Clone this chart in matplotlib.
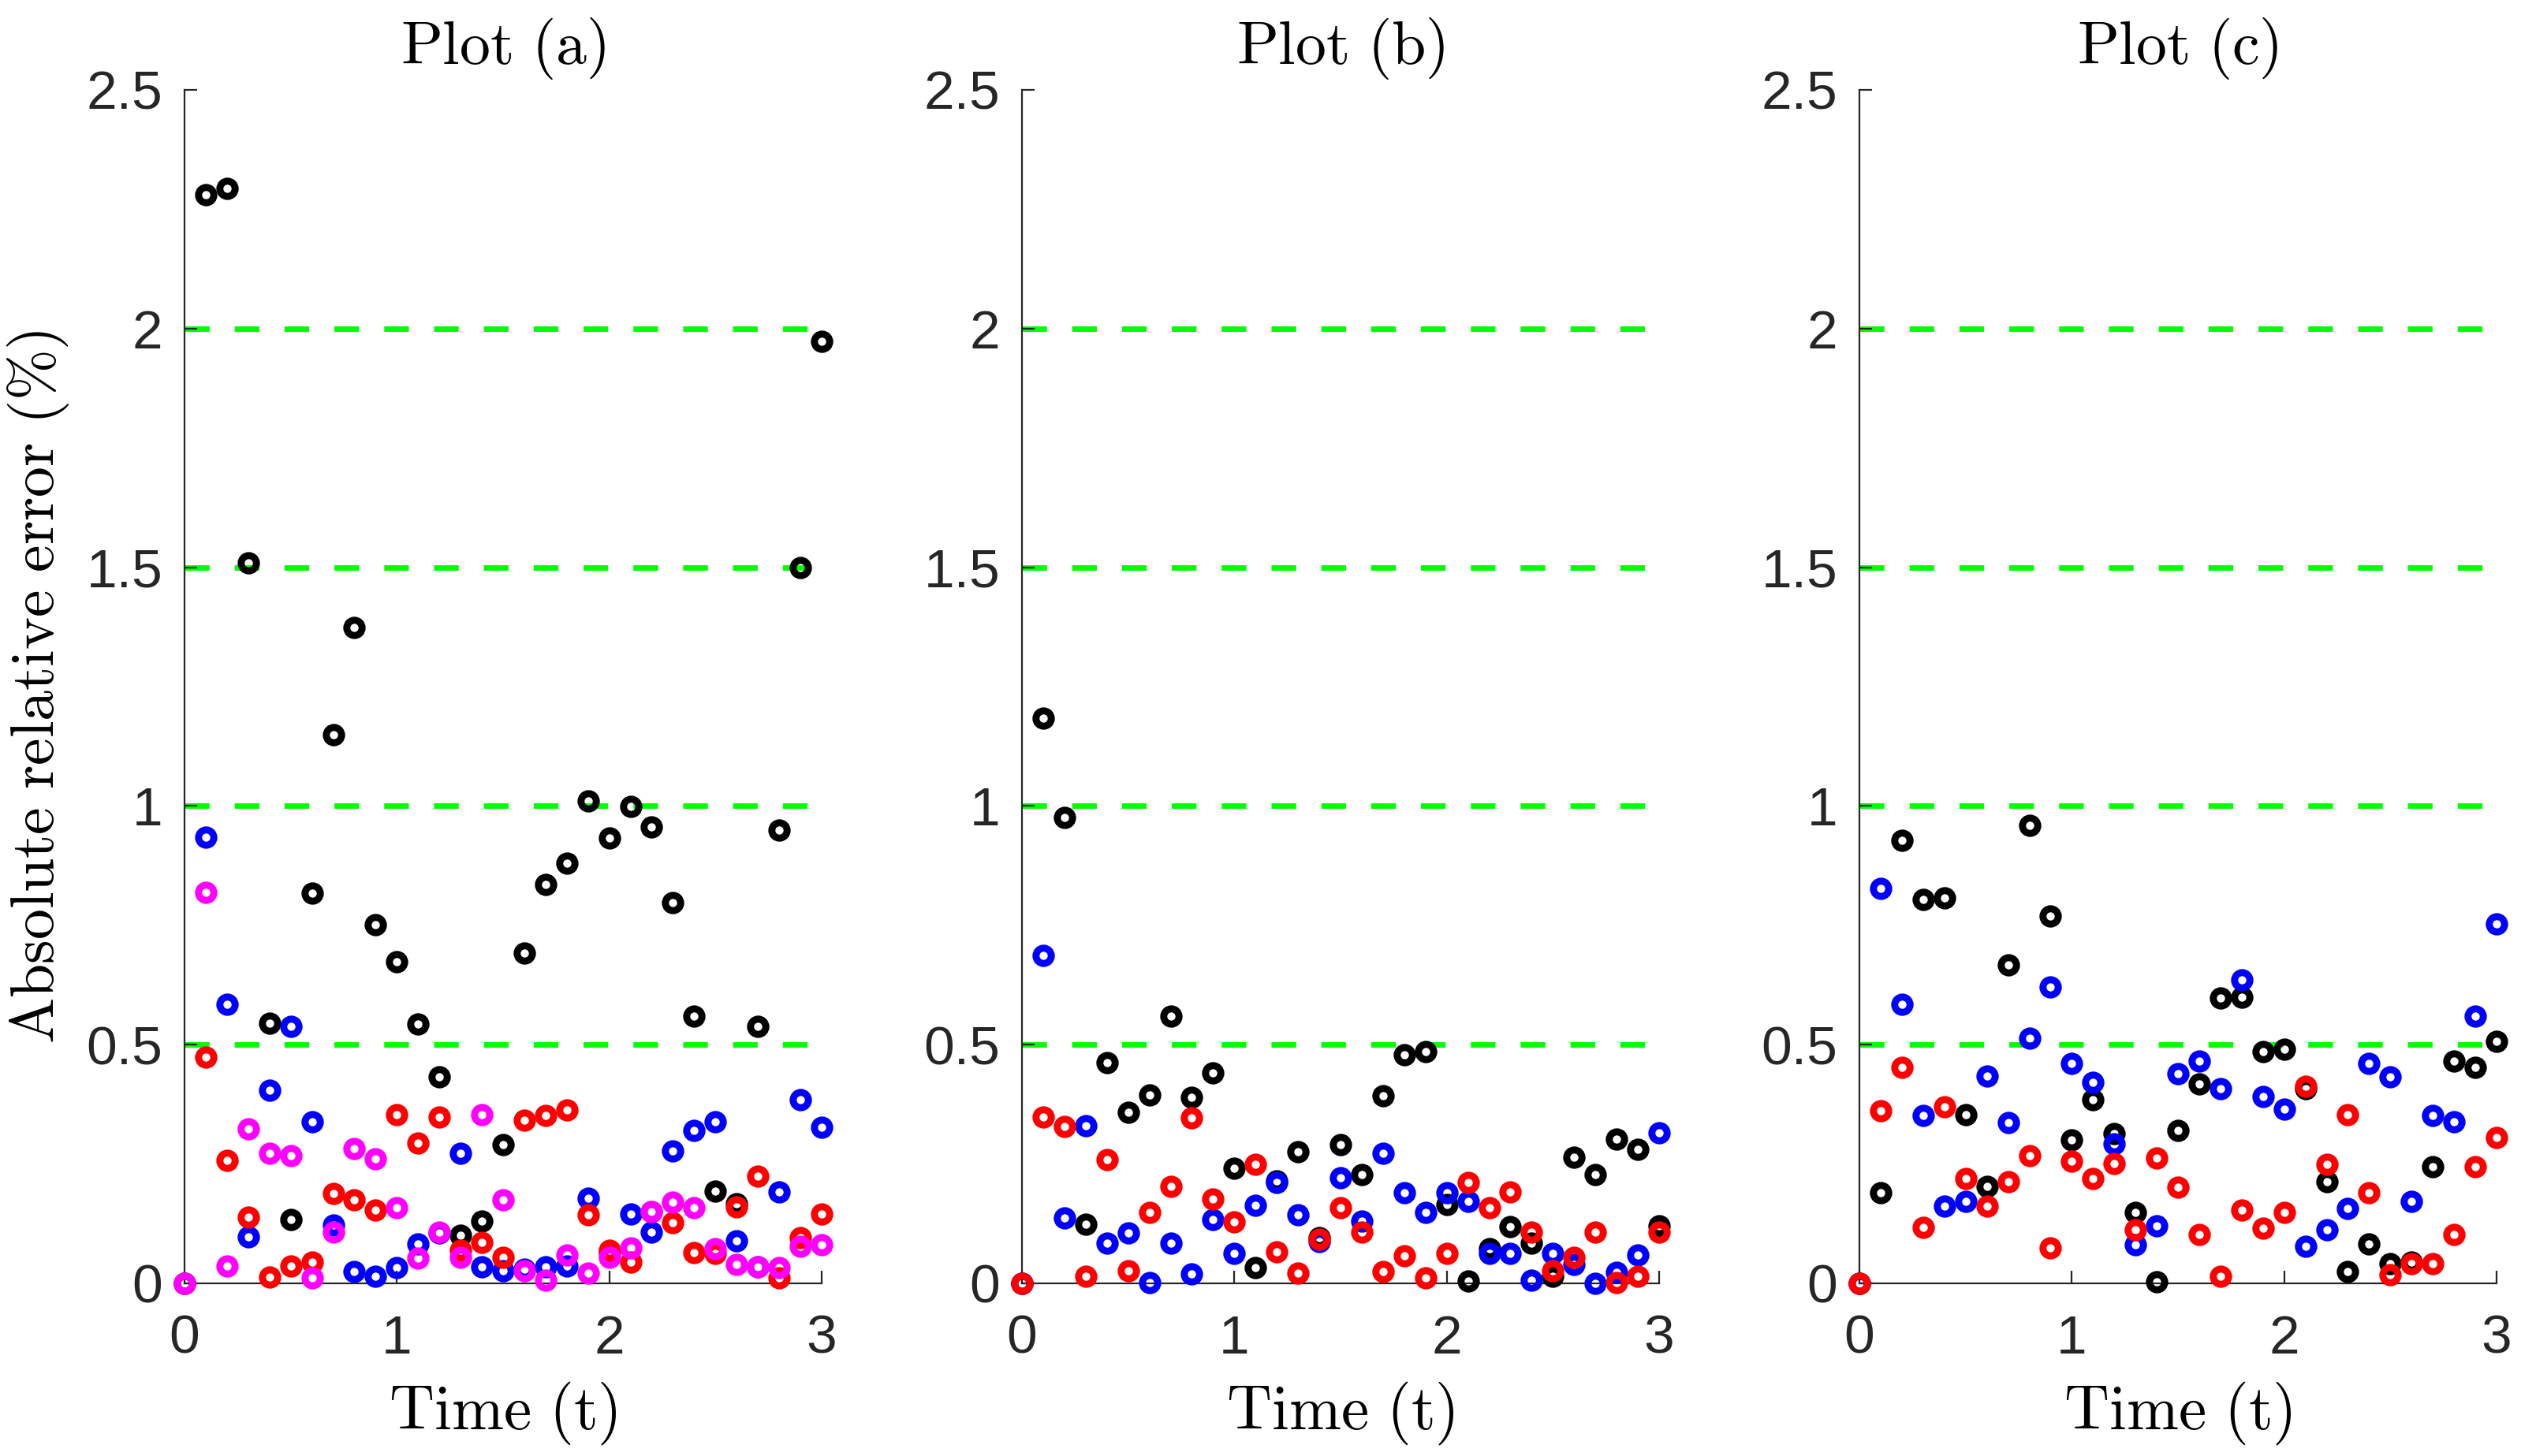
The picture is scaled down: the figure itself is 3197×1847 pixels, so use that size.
import matplotlib
matplotlib.use('Agg')
import matplotlib.pyplot as plt

# time samples (same for every panel)
t = [0.0, 0.1, 0.2, 0.3, 0.4, 0.5, 0.6, 0.7, 0.8, 0.9, 1.0,
     1.1, 1.2, 1.3, 1.4, 1.5, 1.6, 1.7, 1.8, 1.9, 2.0,
     2.1, 2.2, 2.3, 2.4, 2.5, 2.6, 2.7, 2.8, 2.9, 3.0]

# Plot (a)
a_black = [0, 2.28, 2.294, 1.509, 0.545, 0.134, 0.817, 1.15, 1.374, 0.751, 0.674,
           0.544, 0.432, 0.101, 0.131, 0.29, 0.692, 0.835, 0.88, 1.01, 0.933,
           0.999, 0.956, 0.798, 0.559, 0.193, 0.166, 0.539, 0.949, 1.5, 1.974]
a_blue = [0, 0.935, 0.585, 0.098, 0.404, 0.539, 0.339, 0.122, 0.024, 0.015, 0.033,
          0.083, 0.105, 0.272, 0.034, 0.026, 0.03, 0.035, 0.037, 0.179, 0.065,
          0.145, 0.108, 0.278, 0.321, 0.338, 0.089, 0.035, 0.192, 0.384, 0.327]
a_red = [0, 0.473, 0.257, 0.139, 0.013, 0.036, 0.044, 0.188, 0.175, 0.153, 0.354,
         0.294, 0.348, 0.07, 0.085, 0.055, 0.342, 0.352, 0.364, 0.144, 0.07,
         0.044, 0.15, 0.127, 0.064, 0.063, 0.16, 0.224, 0.011, 0.096, 0.145]
a_magenta = [0, 0.819, 0.037, 0.323, 0.273, 0.267, 0.011, 0.107, 0.282, 0.26, 0.159,
             0.053, 0.107, 0.055, 0.353, 0.175, 0.026, 0.007, 0.059, 0.021, 0.055,
             0.075, 0.151, 0.17, 0.159, 0.072, 0.039, 0.035, 0.033, 0.077, 0.081]

# Plot (b)
b_black = [0, 1.184, 0.976, 0.124, 0.463, 0.358, 0.394, 0.56, 0.389, 0.441, 0.241,
           0.033, 0.214, 0.275, 0.096, 0.291, 0.228, 0.393, 0.478, 0.486, 0.165,
           0.005, 0.072, 0.118, 0.084, 0.015, 0.264, 0.228, 0.302, 0.281, 0.12]
b_blue = [0, 0.687, 0.137, 0.33, 0.084, 0.106, 0.002, 0.084, 0.019, 0.133, 0.063,
          0.164, 0.211, 0.143, 0.088, 0.221, 0.13, 0.272, 0.19, 0.148, 0.189,
          0.171, 0.063, 0.063, 0.007, 0.062, 0.039, 0.0, 0.023, 0.059, 0.315]
b_red = [0, 0.348, 0.328, 0.015, 0.259, 0.027, 0.149, 0.203, 0.346, 0.176, 0.128,
         0.249, 0.066, 0.021, 0.092, 0.159, 0.107, 0.025, 0.058, 0.011, 0.062,
         0.212, 0.159, 0.192, 0.108, 0.027, 0.054, 0.108, 0.002, 0.015, 0.108]

# Plot (c)
c_black = [0, 0.189, 0.928, 0.804, 0.808, 0.354, 0.203, 0.667, 0.959, 0.77, 0.3,
           0.385, 0.314, 0.148, 0.004, 0.321, 0.417, 0.598, 0.6, 0.485, 0.49,
           0.408, 0.213, 0.024, 0.083, 0.041, 0.044, 0.245, 0.465, 0.452, 0.507]
c_blue = [0, 0.827, 0.584, 0.352, 0.161, 0.171, 0.435, 0.336, 0.514, 0.62, 0.46,
          0.421, 0.292, 0.081, 0.12, 0.439, 0.466, 0.408, 0.635, 0.391, 0.365,
          0.077, 0.112, 0.156, 0.461, 0.432, 0.172, 0.352, 0.338, 0.559, 0.753]
c_red = [0, 0.362, 0.453, 0.117, 0.369, 0.219, 0.162, 0.213, 0.268, 0.075, 0.256,
         0.22, 0.251, 0.113, 0.263, 0.201, 0.103, 0.015, 0.153, 0.116, 0.148,
         0.413, 0.249, 0.353, 0.19, 0.018, 0.041, 0.041, 0.103, 0.245, 0.306]

levels = [0.5, 1, 1.5, 2]
xticks = [0, 1, 2, 3]
xtick_labels = ['0', '1', '2', '3']
yticks = [0, 0.5, 1, 1.5, 2, 2.5]
ytick_labels = ['0', '0.5', '1', '1.5', '2', '2.5']
titles = ['Plot\\ (a)', 'Plot\\ (b)', 'Plot\\ (c)']

panels = [
    [(a_black, 'k'), (a_blue, (0, 0, 1)), (a_red, (1, 0, 0)), (a_magenta, (1, 0, 1))],
    [(b_black, 'k'), (b_blue, (0, 0, 1)), (b_red, (1, 0, 0))],
    [(c_black, 'k'), (c_blue, (0, 0, 1)), (c_red, (1, 0, 0))],
]

plt.rcParams['mathtext.fontset'] = 'cm'
plt.rcParams['font.family'] = 'Liberation Sans'

axcol = '#262626'
fig = plt.figure(figsize=(15.985, 9.235), dpi=200)
lefts = [0.0732, 0.4054, 0.7376]

for i, series in enumerate(panels):
    ax = fig.add_axes([lefts[i], 0.1186, 0.2527, 0.8197])
    # green threshold lines, dashes ~11pt on / 11pt off
    for lv in levels:
        ax.axhline(lv, color=(0, 1, 0), lw=2.5, linestyle=(0, (4.5, 4.6)), zorder=1)
    for vals, col in series:
        ax.plot(t, vals, 'o', ls='none', mfc='none', mec=col, ms=7.0, mew=3.2,
                clip_on=False, zorder=3)
    ax.set_xlim(0, 3)
    ax.set_ylim(0, 2.5)
    ax.set_xticks(xticks)
    ax.set_xticklabels(xtick_labels)
    ax.set_yticks(yticks)
    ax.set_yticklabels(ytick_labels)
    for s in ['top', 'right']:
        ax.spines[s].set_visible(False)
    for s in ['left', 'bottom']:
        ax.spines[s].set_color(axcol)
        ax.spines[s].set_linewidth(0.8)
    ax.tick_params(direction='in', length=5.8, width=0.8, colors=axcol,
                   labelsize=25)
    ax.tick_params(axis='x', pad=14)
    ax.tick_params(axis='y', pad=10)
    ax.set_title('$\\mathrm{' + titles[i] + '}$', fontsize=28, pad=12, color='k')
    ax.set_xlabel('$\\mathrm{Time\\ (t)}$', fontsize=28.5, labelpad=7, color='k')
    if i == 0:
        ax.set_ylabel('$\\mathrm{Absolute\\ relative\\ error\\ (\\%)}$',
                      fontsize=28, labelpad=7, color='k')

fig.savefig('out.png', dpi=200)
